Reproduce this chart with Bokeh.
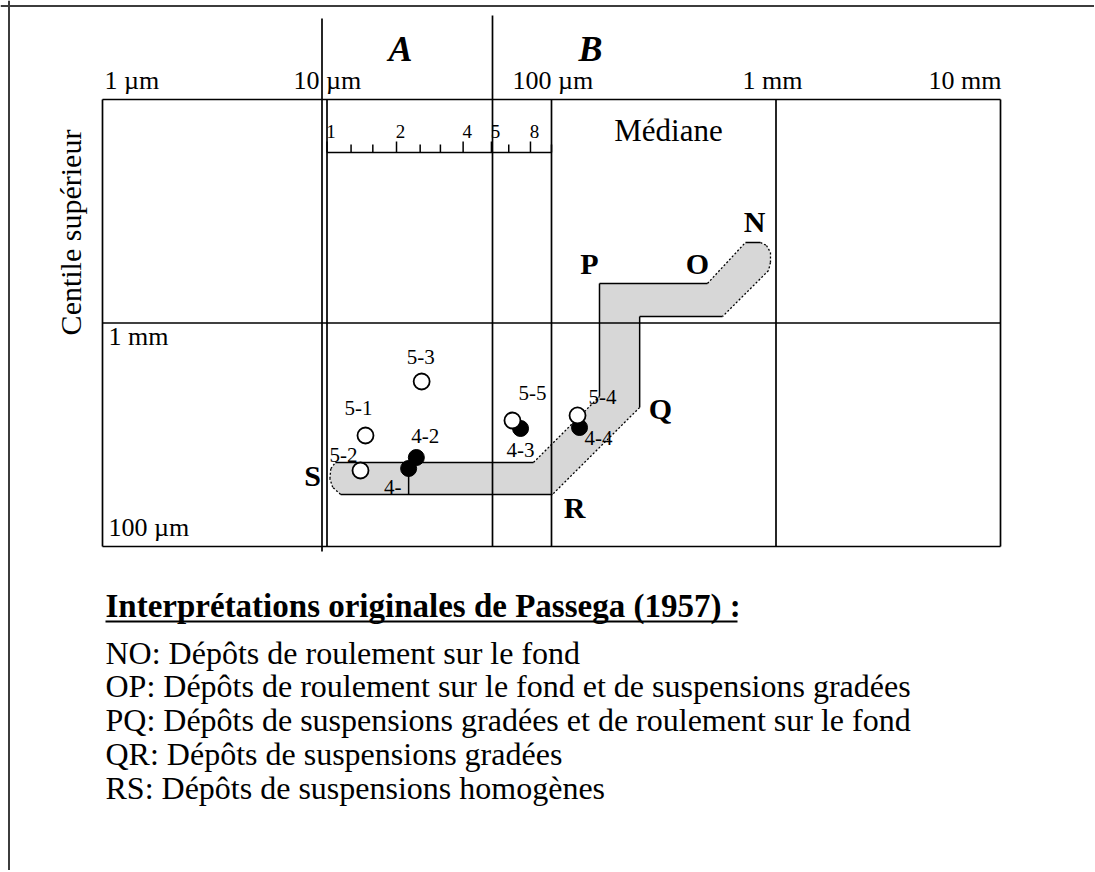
import math
from bokeh.plotting import figure
from bokeh.models import Range1d, Span
from bokeh.core.properties import value
from bokeh.embed import file_html
from bokeh.resources import INLINE

# ---------------- values (µm) ----------------
median_grid_um = [1, 10, 100, 1000, 10000]
median_grid_labels = ["1 µm", "10 µm", "100 µm", "1 mm", "10 mm"]
centile_grid_um = [100, 1000, 10000]
centile_grid_labels = ["100 µm", "1 mm"]
region_bounds_um = [9.5, 54.6]
region_labels = ["A", "B"]
scale_ticks_um = [10, 12.8, 16, 20.4, 26, 32, 40.4, 54, 64.5, 80.6, 100]
scale_label_um = [10, 20.4, 40.4, 54, 80.6]
scale_labels = ["1", "2", "4", "5", "8"]
band_median_um = [10.9, 83.1, 163.6, 163.6, 495, 731, 853, 907, 945, 945, 926,
                  578, 247, 247, 101, 11.5, 10.6, 10.3, 10.4]
band_centile_um = [237.6, 237.6, 469, 1502, 1502, 2292, 2292, 2223, 2067, 1865, 1717,
                   1069, 1069, 419, 171, 171, 184, 201, 223]
segment_letters = ["N", "O", "P", "Q", "R", "S"]
segment_median_um = [802, 447, 147.7, 305.9, 126.6, 8.62]
segment_centile_um = [2845, 1846, 1846, 414.4, 149.5, 207.8]
open_ids = ["5-1", "5-2", "5-3", "5-4", "5-5"]
open_median_um = [14.84, 14.1, 26.4, 130.6, 67.0]
open_centile_um = [313.8, 218.8, 547.4, 385.7, 366.3]
filled_ids = ["4-", "4-2", "4-3", "4-4"]
filled_median_um = [23.1, 25.0, 72.8, 133.3]
filled_centile_um = [223.4, 250.1, 337.3, 340.7]
median_title = "Médiane"
centile_title = "Centile supérieur"
interp_title = "Interprétations originales de Passega (1957) :"
interp_lines = [
    "NO: Dépôts de roulement sur le fond",
    "OP: Dépôts de roulement sur le fond et de suspensions gradées",
    "PQ: Dépôts de suspensions gradées et de roulement sur le fond",
    "QR: Dépôts de suspensions gradées",
    "RS: Dépôts de suspensions homogènes",
]

# ---------------- layout (page pixels -> diagram scale) ----------------
W, H = 1094, 870
ORIGIN = 0.0                     # page position of the canvas corner
PX_X0, DEC_X = 102.0, 224.5      # page x of 1 µm, pixels per decade
PX_Y0, DEC_Y = 546.0, 223.5      # page y of 100 µm, pixels per decade


def ux(px):
    return 10 ** ((px - PX_X0) / DEC_X)


def uy(py):
    return 10 ** (2 + (PX_Y0 - py) / DEC_Y)


def sx(v, dpx):
    return v * 10 ** (dpx / DEC_X)


def sy(v, dpx):
    return v * 10 ** (-dpx / DEC_Y)


FONT = value("Liberation Serif")

p = figure(width=W, height=H, x_axis_type="log", y_axis_type="log",
           x_range=Range1d(ux(ORIGIN), ux(ORIGIN + W)),
           y_range=Range1d(uy(ORIGIN + H), uy(ORIGIN)),
           x_axis_location=None, y_axis_location=None, toolbar_location=None,
           output_backend="svg", min_border=0, outline_line_color=None,
           background_fill_color="white", border_fill_color="white")
p.title.visible = False
p.grid.visible = False
p.xgrid.grid_line_color = None
p.ygrid.grid_line_color = None


def put(xs, ys, texts, size, style="normal", align="left", baseline="middle", angle=0.0):
    p.text(x=list(xs), y=list(ys), text=list(texts), text_font=FONT,
           text_font_size=size, text_font_style=style, text_align=align,
           text_baseline=baseline, angle=angle, text_color="black")


# outer frame (left and top edges)
p.add_layout(Span(location=ux(8.5), dimension="height", line_color="#3c3c3c", line_width=2))
p.add_layout(Span(location=uy(5.5), dimension="width", line_color="#3c3c3c", line_width=2))

# grey band
p.patch(band_median_um, band_centile_um, fill_color="#d7d7d7", line_color=None)
solid_edges = [(0, 1), (2, 3), (3, 4), (5, 6), (11, 12), (12, 13), (14, 15)]
dotted_edges = [(1, 2), (4, 5), (6, 7), (7, 8), (8, 9), (9, 10), (10, 11), (13, 14),
                (15, 16), (16, 17), (17, 18), (18, 0)]
p.multi_line([[band_median_um[a], band_median_um[b]] for a, b in solid_edges],
             [[band_centile_um[a], band_centile_um[b]] for a, b in solid_edges],
             line_color="black", line_width=1.5)
p.multi_line([[band_median_um[a], band_median_um[b]] for a, b in dotted_edges],
             [[band_centile_um[a], band_centile_um[b]] for a, b in dotted_edges],
             line_color="black", line_width=1.3, line_dash="2 2")

# diagram box and grid
gx, gy = [], []
for m in median_grid_um:
    gx.append([m, m]); gy.append([centile_grid_um[0], centile_grid_um[-1]])
for c in centile_grid_um:
    gx.append([median_grid_um[0], median_grid_um[-1]]); gy.append([c, c])
p.multi_line(gx, gy, line_color="black", line_width=1.7)

# region boundaries A / B
region_top_px = [18, 15]
region_bot_px = [551, 546]
p.multi_line([[b, b] for b in region_bounds_um],
             [[uy(t), uy(bt)] for t, bt in zip(region_top_px, region_bot_px)],
             line_color="black", line_width=1.7)
put([ux(400), ux(590)], [uy(48)] * 2, region_labels, "36px", "bold italic", "center")

# top scale (median)
put([ux(104), ux(293), ux(512), ux(742)], [uy(80)] * 4, median_grid_labels[:4], "26px")
put([ux(1001)], [uy(80)], [median_grid_labels[4]], "26px", align="right")
# inner centile labels
put([ux(108), ux(108)], [uy(527), uy(336)], centile_grid_labels, "26px")

# small graduated bar
yb = uy(152)
p.line([scale_ticks_um[0], scale_ticks_um[-1]], [yb, yb], line_color="black", line_width=1.7)
p.multi_line([[t, t] for t in scale_ticks_um],
             [[yb, uy(144 if t not in scale_label_um else 141)] for t in scale_ticks_um],
             line_color="black", line_width=1.5)
put([sx(v, 4) for v in scale_label_um], [uy(131)] * len(scale_labels), scale_labels,
    "19px", align="center")

put([ux(668)], [uy(130)], [median_title], "31px", align="center")
put([ux(70)], [uy(232)], [centile_title], "30px", align="center", angle=math.pi / 2)

# samples
p.line([filled_median_um[0], filled_median_um[0]],
       [filled_centile_um[0], band_centile_um[14]], line_color="black", line_width=1.5)
p.scatter(filled_median_um, filled_centile_um, marker="circle", size=16,
          fill_color="black", line_color="black")
p.scatter(open_median_um, open_centile_um, marker="circle", size=16,
          fill_color="white", line_color="black", line_width=1.8)

open_off = [(-7, -27), (-17, -15), (-1, -24), (25, -18), (20, -27)]
filled_off = [(-16, 19), (9, -22), (0, 22), (19, 10)]
put([sx(m, d[0]) for m, d in zip(open_median_um, open_off)],
    [sy(c, d[1]) for c, d in zip(open_centile_um, open_off)], open_ids, "21px", align="center")
put([sx(m, d[0]) for m, d in zip(filled_median_um, filled_off)],
    [sy(c, d[1]) for c, d in zip(filled_centile_um, filled_off)], filled_ids, "21px",
    align="center")

# segment letters
put(segment_median_um, segment_centile_um, segment_letters, "30px", "bold", "center")

# interpretation text
put([ux(105)], [uy(605)], [interp_title], "33px", "bold")
p.line([ux(105), ux(737)], [uy(621), uy(621)], line_color="black", line_width=2)
put([ux(105)] * len(interp_lines), [uy(652 + 33.8 * i) for i in range(len(interp_lines))],
    interp_lines, "32px")

open("out.html", "w").write(file_html(p, INLINE))
